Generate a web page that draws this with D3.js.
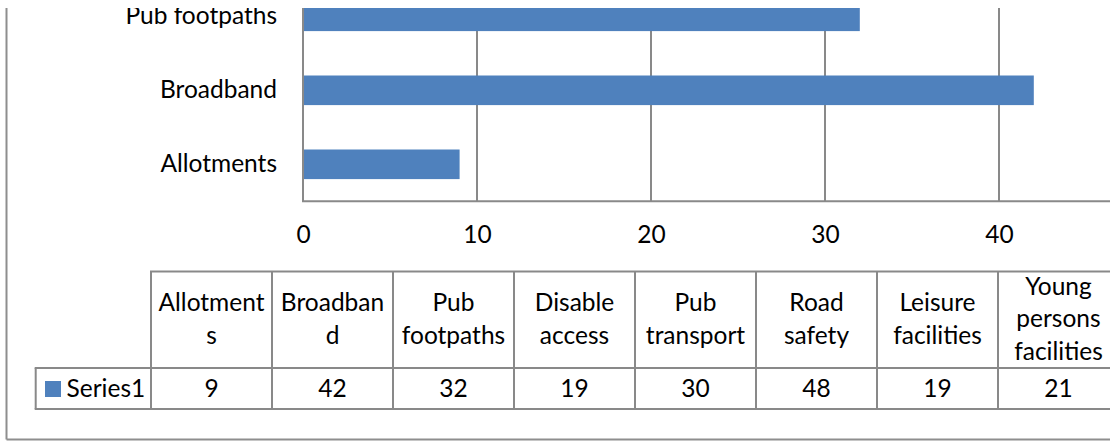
<!DOCTYPE html>
<html>
<head>
<meta charset="utf-8">
<script src="https://cdn.jsdelivr.net/npm/d3@7/dist/d3.min.js"></script>
<style>
  html, body { margin: 0; padding: 0; background: #fff; }
  svg { display: block; }
  text { font-family: Lato, "Open Sans", sans-serif; fill: #000; }
</style>
</head>
<body>
<svg id="chart" width="1110" height="441"></svg>
<script>
// ---- data ----
const categories = ["Allotments", "Broadband", "Pub footpaths", "Disable access",
                    "Pub transport", "Road safety", "Leisure facilities", "Young persons facilities"];
const values = [9, 42, 32, 19, 30, 48, 19, 21];
const seriesName = "Series1";
const xTicks = [0, 10, 20, 30, 40];
// header cell line breaks as shown in the data table
const headerLines = [["Allotment", "s"], ["Broadban", "d"], ["Pub", "footpaths"], ["Disable", "access"],
                     ["Pub", "transport"], ["Road", "safety"], ["Leisure", "facilities"], ["Young", "persons", "facilities"]];

// ---- layout ----
const W = 1110, H = 441;
const FS = 24.5;
const grey = "#898989";
const barColor = "#4F81BD";
const plotLeft = 303, plotRight = 1173, plotBottom = 201.3, step = 74;
const tblLeft = 151, colW = 121, tblTop = 271.5, tblMid = 368, tblBottom = 409, legLeft = 35.7;

const svg = d3.select("#chart");
svg.append("defs").append("clipPath").attr("id", "clip")
  .append("rect").attr("x", 0).attr("y", 8).attr("width", W).attr("height", H - 8);
const g = svg.append("g").attr("clip-path", "url(#clip)");

const x = d3.scaleLinear().domain([0, 50]).range([plotLeft, plotRight]);
const y = d3.scaleBand().domain(categories)
  .range([plotBottom, plotBottom - step * categories.length])
  .paddingInner(0.6).paddingOuter(0.3);

// outer chart border (left and bottom visible)
g.append("line").attr("x1", 6.5).attr("x2", 6.5).attr("y1", 0).attr("y2", 439.5)
  .attr("stroke", "#8e8e8e").attr("stroke-width", 2);
g.append("line").attr("x1", 6.5).attr("x2", W + 5).attr("y1", 439.5).attr("y2", 439.5)
  .attr("stroke", "#8e8e8e").attr("stroke-width", 2);

// gridlines
g.append("g").selectAll("line").data(xTicks.filter(t => t > 0)).join("line")
  .attr("x1", d => x(d)).attr("x2", d => x(d))
  .attr("y1", plotBottom - step * categories.length).attr("y2", plotBottom)
  .attr("stroke", grey).attr("stroke-width", 2);

// bars
g.append("g").selectAll("rect").data(categories).join("rect")
  .attr("x", x(0))
  .attr("y", d => y(d))
  .attr("width", (d, i) => x(values[i]) - x(0))
  .attr("height", y.bandwidth())
  .attr("fill", barColor);

// axis lines
g.append("line").attr("x1", x(0)).attr("x2", x(0))
  .attr("y1", plotBottom - step * categories.length).attr("y2", plotBottom)
  .attr("stroke", grey).attr("stroke-width", 2);
g.append("line").attr("x1", x(0) - 1).attr("x2", plotRight)
  .attr("y1", plotBottom).attr("y2", plotBottom)
  .attr("stroke", grey).attr("stroke-width", 2);

// x axis labels
const xAxis = g.append("g").attr("transform", `translate(0,${plotBottom})`)
  .call(d3.axisBottom(x).tickValues(xTicks).tickSize(0).tickPadding(0).tickFormat(d3.format("d")));
xAxis.select(".domain").remove();
xAxis.selectAll("text").attr("y", 42).attr("dy", 0)
  .style("font-size", FS + "px").style("font-family", "Lato, sans-serif").attr("fill", "#000");

// y axis labels
const yAxis = g.append("g").attr("transform", `translate(${plotLeft},0)`)
  .call(d3.axisLeft(y).tickSize(0).tickPadding(26));
yAxis.select(".domain").remove();
yAxis.selectAll("text").attr("dy", "0.33em")
  .style("font-size", FS + "px").style("font-family", "Lato, sans-serif").attr("fill", "#000");

// ---- data table ----
const col = d3.scaleBand().domain(categories).range([tblLeft, tblLeft + colW * categories.length]);
const tbl = g.append("g");
const L = (x1, y1, x2, y2) => tbl.append("line").attr("x1", x1).attr("y1", y1).attr("x2", x2).attr("y2", y2)
  .attr("stroke", grey).attr("stroke-width", 2);
L(tblLeft - 1, tblTop, col.range()[1] + 1, tblTop);
L(legLeft - 1, tblMid, col.range()[1] + 1, tblMid);
L(legLeft - 1, tblBottom, col.range()[1] + 1, tblBottom);
L(legLeft, tblMid, legLeft, tblBottom);
tbl.append("g").selectAll("line").data(categories.concat(["_end"])).join("line")
  .attr("x1", (d, i) => tblLeft + col.step() * i).attr("x2", (d, i) => tblLeft + col.step() * i)
  .attr("y1", tblTop).attr("y2", tblBottom)
  .attr("stroke", grey).attr("stroke-width", 2);

// header text
const hc = (tblTop + tblMid) / 2;
const lh = 32.5;
categories.forEach((c, i) => {
  const lines = headerLines[i];
  const t = tbl.append("text").attr("text-anchor", "middle").style("font-size", FS + "px");
  lines.forEach((ln, j) => {
    t.append("tspan").attr("x", col(c) + col.bandwidth() / 2)
      .attr("y", hc - (lines.length - 1) / 2 * lh + 7.5 + j * lh).text(ln);
  });
});

// values row
const rc = (tblMid + tblBottom) / 2;
tbl.append("g").selectAll("text").data(categories).join("text")
  .attr("x", d => col(d) + col.bandwidth() / 2).attr("y", rc + 8.2)
  .attr("text-anchor", "middle").style("font-size", FS + "px")
  .text((d, i) => values[i]);

// legend key
tbl.append("rect").attr("x", 45).attr("y", 381).attr("width", 16).attr("height", 16).attr("fill", barColor);
tbl.append("text").attr("x", 66.5).attr("y", rc + 8.2).style("font-size", FS + "px").text(seriesName);
</script>
</body>
</html>
